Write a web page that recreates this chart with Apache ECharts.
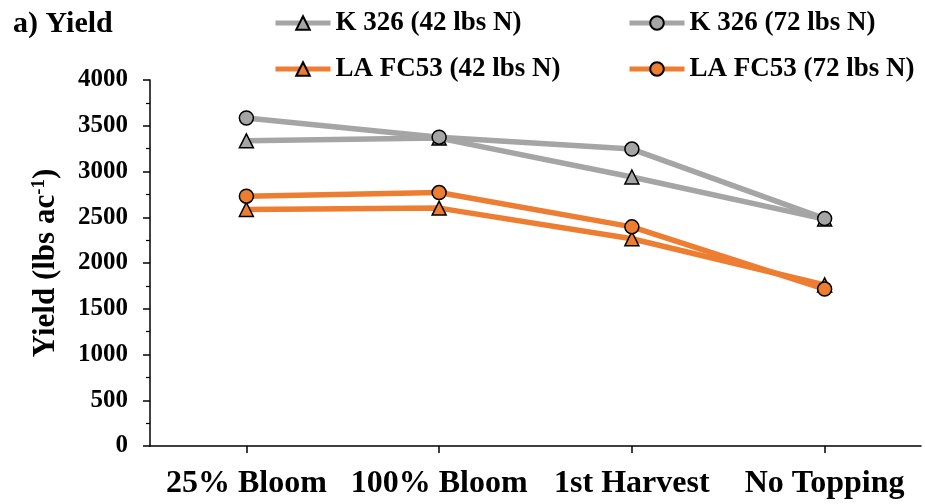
<!DOCTYPE html>
<html>
<head>
<meta charset="utf-8">
<script src="https://cdn.jsdelivr.net/npm/echarts@6/dist/echarts.min.js"></script>
<style>
  html, body { margin: 0; padding: 0; background: #fff; }
  #chart { width: 925px; height: 504px; }
</style>
</head>
<body>
<div id="chart"></div>
<script>
// Topping timing treatments
const categories = ['25% Bloom', '100% Bloom', '1st Harvest', 'No Topping'];

// Yield (lbs/ac) per cultivar and nitrogen rate
const k326N42 = [3335, 3365, 2940, 2480];
const k326N72 = [3585, 3375, 3245, 2485];
const laN42 = [2585, 2600, 2265, 1760];
const laN72 = [2730, 2770, 2395, 1715];

const seriesNames = ['K 326 (42 lbs N)', 'K 326 (72 lbs N)', 'LA FC53 (42 lbs N)', 'LA FC53 (72 lbs N)'];

const GRAY = '#A5A5A5';
const ORANGE = '#ED7D31';
const FONT = '"Liberation Serif", "Times New Roman", serif';

function lineSeries(name, data, color, symbol) {
  return {
    name: name,
    type: 'line',
    data: data,
    symbol: symbol,
    symbolSize: 14,
    lineStyle: { color: color, width: 5.5 },
    itemStyle: { color: color, borderColor: '#000', borderWidth: 1.5 },
    emphasis: { disabled: true },
    animation: false
  };
}

// One legend per entry so the two columns line up
function legendAt(name, left, top) {
  return {
    data: [name],
    left: left,
    top: top,
    padding: 0,
    itemWidth: 55,
    itemHeight: 17,
    selectedMode: false,
    textStyle: {
      fontFamily: FONT,
      fontWeight: 'bold',
      fontSize: 27,
      color: '#000',
      lineHeight: 30
    },
    lineStyle: { width: 5 }
  };
}

const chart = echarts.init(document.getElementById('chart'), null, { renderer: 'canvas' });

chart.setOption({
  backgroundColor: '#fff',
  title: {
    text: 'a) Yield',
    left: 8,
    top: 4,
    textStyle: { fontFamily: FONT, fontWeight: 'bold', fontSize: 30, color: '#000' }
  },
  legend: [
    legendAt(seriesNames[0], 273, 8),
    legendAt(seriesNames[1], 627, 8),
    legendAt(seriesNames[2], 273, 54),
    legendAt(seriesNames[3], 627, 54)
  ],
  grid: { left: 150, right: 4, top: 80, bottom: 58 },
  xAxis: {
    type: 'category',
    data: categories,
    axisLine: { lineStyle: { color: '#000', width: 1.5 } },
    axisTick: { show: true, alignWithLabel: true, length: 7, lineStyle: { color: '#000', width: 1.5 } },
    axisLabel: {
      interval: 0,
      fontFamily: FONT, fontWeight: 'bold', fontSize: 32, color: '#000', margin: 22
    },
    splitLine: { show: false }
  },
  yAxis: {
    type: 'value',
    min: 0,
    max: 4000,
    interval: 500,
    name: 'Yield (lbs ac{sup|-1})',
    nameLocation: 'middle',
    nameGap: 89,
    nameTextStyle: {
      fontFamily: FONT, fontWeight: 'bold', fontSize: 31, color: '#000',
      rich: {
        sup: { fontFamily: FONT, fontWeight: 'bold', fontSize: 19, color: '#000', verticalAlign: 'top', padding: [0, 0, 12, 0] }
      }
    },
    axisLine: { show: true, lineStyle: { color: '#000', width: 1.5 } },
    axisTick: { show: true, length: 7, lineStyle: { color: '#000', width: 1.5 } },
    minorTick: { show: true, splitNumber: 2, length: 4, lineStyle: { color: '#000', width: 1.2 } },
    axisLabel: {
      formatter: function (v) { return String(v); },
      fontFamily: FONT, fontWeight: 'bold', fontSize: 25, color: '#000', margin: 22
    },
    splitLine: { show: false }
  },
  series: [
    lineSeries(seriesNames[0], k326N42, GRAY, 'triangle'),
    lineSeries(seriesNames[1], k326N72, GRAY, 'circle'),
    lineSeries(seriesNames[2], laN42, ORANGE, 'triangle'),
    lineSeries(seriesNames[3], laN72, ORANGE, 'circle')
  ]
});
</script>
</body>
</html>
